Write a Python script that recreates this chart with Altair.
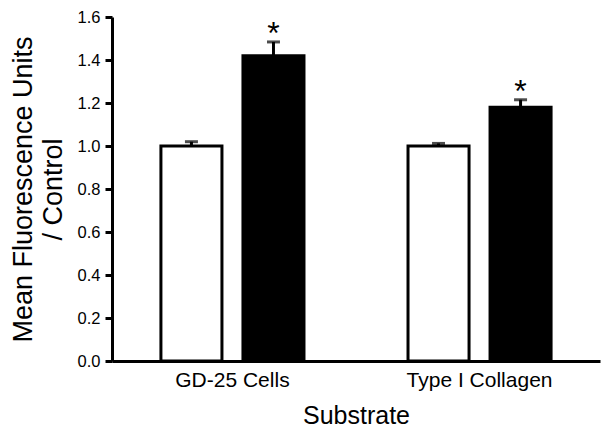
import altair as alt
import pandas as pd

substrates = ["GD-25 Cells", "GD-25 Cells", "Type I Collagen", "Type I Collagen"]
conditions = ["Control", "Treated", "Control", "Treated"]
means = [1.00, 1.42, 1.00, 1.18]
errors = [0.02, 0.064, 0.012, 0.035]
stars = ["", "*", "", "*"]

df = pd.DataFrame({
    "substrate": substrates,
    "condition": conditions,
    "mean": means,
    "err": errors,
    "star": stars,
})
df["top"] = df["mean"] + df["err"]

FONT = "Liberation Sans"

x = alt.X("substrate:N", title="Substrate",
          scale=alt.Scale(paddingInner=0.421, paddingOuter=0.198),
          axis=alt.Axis(labelAngle=0, ticks=False, domainWidth=3, domainColor="black",
                        labelFontSize=21, labelFont=FONT, labelColor="black", labelPadding=8,
                        titleFontSize=25, titleFont=FONT, titleFontWeight="normal",
                        titleColor="black", titlePadding=13))
xo = alt.XOffset("condition:N", scale=alt.Scale(paddingInner=0.256, paddingOuter=0))
yscale = alt.Scale(domain=[0, 1.6])

base = alt.Chart(df)

bars = base.mark_bar(stroke="black", strokeWidth=3).encode(
    x=x,
    xOffset=xo,
    y=alt.Y("mean:Q", scale=yscale,
            title=["Mean Fluorescence Units", "/ Control"],
            axis=alt.Axis(values=[0, 0.2, 0.4, 0.6, 0.8, 1.0, 1.2, 1.4, 1.6], format=".1f",
                          grid=False, domainWidth=3, domainColor="black",
                          tickWidth=3, tickSize=7, tickColor="black",
                          labelFontSize=16.5, labelFont=FONT, labelColor="black", labelPadding=5,
                          titleFontSize=27, titleFont=FONT, titleFontWeight="normal",
                          titleColor="black", titlePadding=10, titleLineHeight=30)),
    fill=alt.Fill("condition:N", scale=alt.Scale(domain=["Control", "Treated"],
                                                  range=["white", "black"]), legend=None),
)

rules = base.mark_rule(color="black", strokeWidth=3).encode(
    x="substrate:N", xOffset=xo,
    y=alt.Y("mean:Q", scale=yscale), y2="top:Q",
)

caps = base.mark_tick(color="black", thickness=3, size=13).encode(
    x="substrate:N", xOffset=xo,
    y=alt.Y("top:Q", scale=yscale),
)

text = base.mark_text(fontSize=32, font=FONT, color="black", baseline="alphabetic", dy=2).encode(
    x="substrate:N", xOffset=xo,
    y=alt.Y("top:Q", scale=yscale),
    text="star:N",
)

chart = alt.layer(bars, rules, caps, text).properties(
    width=488, height=344,
    autosize=alt.AutoSizeParams(type="none"),
    padding={"left": 104, "top": 9, "right": 6, "bottom": 74},
).configure_view(strokeWidth=0)

chart.save("out.html", embed_options={"renderer": "svg", "actions": False})
